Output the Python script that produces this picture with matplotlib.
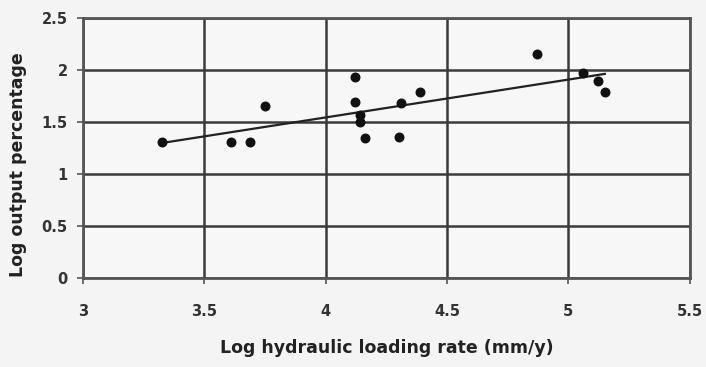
import numpy as np
import matplotlib.pyplot as plt

# log hydraulic loading rate (mm/y) vs log output percentage
log_rate = [3.325, 3.61, 3.69, 3.75, 4.12, 4.12, 4.14, 4.14, 4.16, 4.30, 4.31,
            4.39, 4.87, 5.06, 5.12, 5.15]
log_output = [1.31, 1.31, 1.31, 1.65, 1.93, 1.69, 1.57, 1.50, 1.35, 1.36, 1.68,
              1.79, 2.15, 1.97, 1.89, 1.79]

x_ticks = [3, 3.5, 4, 4.5, 5, 5.5]
y_ticks = [0, 0.5, 1, 1.5, 2, 2.5]

plt.rcParams['font.family'] = ['DejaVu Sans']

fig = plt.figure(figsize=(7.06, 3.67), dpi=100, facecolor='#f4f4f4')
ax = fig.add_axes([0.1176, 0.2425, 0.8594, 0.7085])
ax.set_facecolor('#f7f7f7')

for v in x_ticks:
    ax.axvline(v, color='#3a3a3a', lw=1.8, zorder=1)
for v in y_ticks:
    ax.axhline(v, color='#3a3a3a', lw=1.8, zorder=1)

# linear trendline
coef = np.polyfit(log_rate, log_output, 1)
xs = np.array([min(log_rate), max(log_rate)])
ax.plot(xs, np.polyval(coef, xs), color='#222222', lw=1.6, zorder=2)

ax.scatter(log_rate, log_output, s=38, color='#111111', zorder=3)

ax.set_xlim(3, 5.5)
ax.set_ylim(0, 2.5)
ax.set_xticks(x_ticks)
ax.set_xticklabels(['3', '3.5', '4', '4.5', '5', '5.5'])
ax.set_yticks(y_ticks)
ax.set_yticklabels(['0', '0.5', '1', '1.5', '2', '2.5'])
ax.tick_params(direction='out', length=4, width=1.2, color='#555555',
               labelsize=10.5)
ax.tick_params(axis='x', pad=15)
ax.tick_params(axis='y', pad=7)
for lab in ax.get_xticklabels() + ax.get_yticklabels():
    lab.set_fontweight('bold')
    lab.set_color('#333333')
for s in ax.spines.values():
    s.set_color('#555555')
    s.set_linewidth(2)

ax.set_xlabel('Log hydraulic loading rate (mm/y)', fontsize=12.5,
              fontweight='bold', color='#222222', labelpad=14)
ax.set_ylabel('Log output percentage', fontsize=12.5, fontweight='bold',
              color='#222222')
ax.yaxis.set_label_coords(-0.092, 0.435)

fig.savefig('out.png', dpi=100, facecolor=fig.get_facecolor())
